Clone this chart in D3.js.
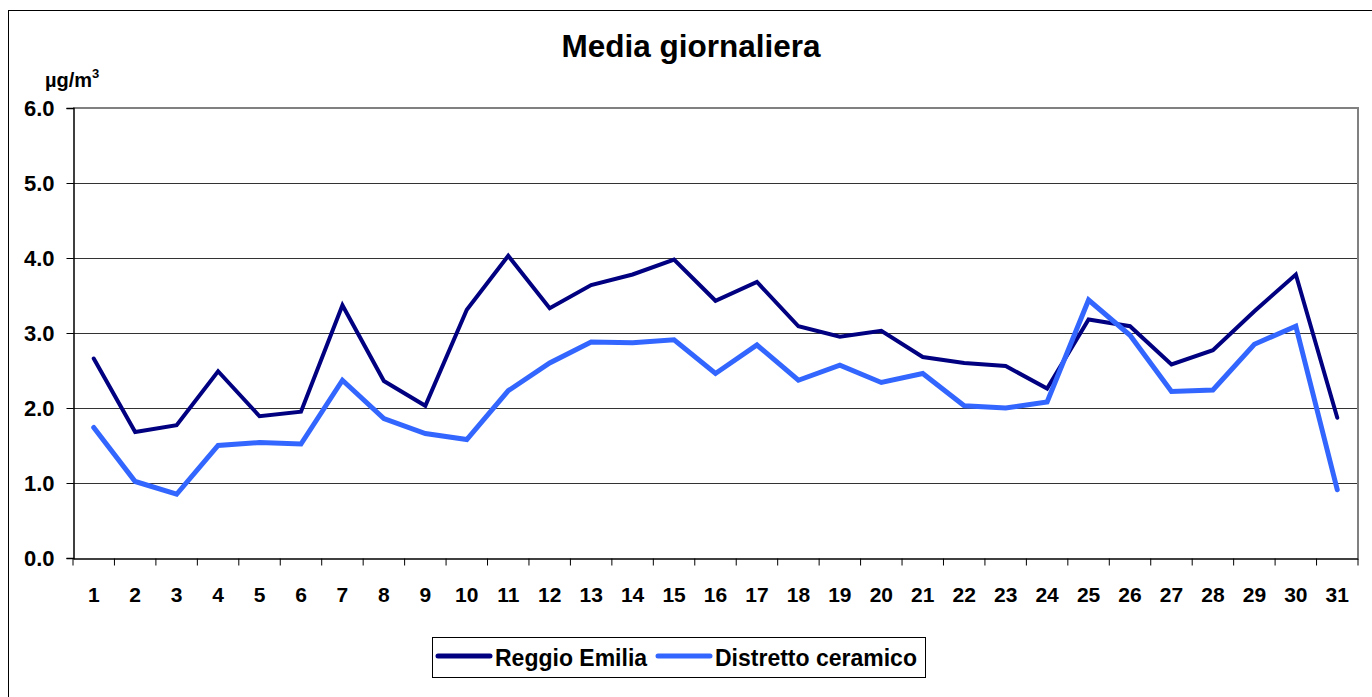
<!DOCTYPE html>
<html>
<head>
<meta charset="utf-8">
<script src="https://cdn.jsdelivr.net/npm/d3@7"></script>
<style>
html,body{margin:0;padding:0;background:#fff;}
svg{display:block;font-family:Arial,"Liberation Sans",sans-serif;}
</style>
</head>
<body>
<svg id="chart" width="1372" height="697"></svg>
<script>
const days = d3.range(1, 32).map(String);
const reggioEmilia = [2.66,1.68,1.77,2.49,1.89,1.95,3.37,2.36,2.03,3.31,4.03,3.33,3.64,3.78,3.98,3.43,3.68,3.09,2.95,3.03,2.68,2.60,2.56,2.26,3.18,3.09,2.58,2.77,3.29,3.78,1.87];
const distrettoCeramico = [1.74,1.02,0.85,1.50,1.54,1.52,2.37,1.86,1.66,1.58,2.23,2.60,2.88,2.87,2.91,2.46,2.84,2.37,2.57,2.34,2.46,2.03,2.00,2.08,3.44,2.97,2.22,2.24,2.85,3.09,0.91];
const yTicks = [0,1,2,3,4,5,6];
const seriesNames = ["Reggio Emilia","Distretto ceramico"];
const seriesColors = ["#000080","#3366FF"];
const seriesWidths = [4,5];

const svg = d3.select("#chart");
// outer border
svg.append("rect").attr("x",8.5).attr("y",10.5).attr("width",1400).attr("height",700)
  .attr("fill","none").attr("stroke","#000").attr("stroke-width",1);

const L=73, R=1358, T=108, B=558;
const x = d3.scaleBand().domain(days).range([L,R]).padding(0);
const y = d3.scaleLinear().domain([0,6]).range([B,T]);

// gridlines
svg.append("g").selectAll("line").data(yTicks.filter(d=>d>0&&d<6)).join("line")
  .attr("x1",L).attr("x2",R).attr("y1",d=>y(d)+0.5).attr("y2",d=>y(d)+0.5)
  .attr("stroke","#333").attr("stroke-width",1);
// plot border top/right gray
svg.append("path").attr("d",`M${L},${T} H${R} V${B}`).attr("fill","none")
  .attr("stroke","#808080").attr("stroke-width",2);

// y axis
const yAxis = d3.axisLeft(y).tickValues(yTicks).tickFormat(d3.format(".1f")).tickSize(7).tickPadding(12);
const gy = svg.append("g").attr("transform",`translate(${L+0.5},0)`).call(yAxis);
gy.select(".domain").attr("stroke","#000").attr("stroke-width",1.5);
gy.selectAll(".tick line").attr("stroke","#000");
gy.selectAll("text").attr("font-size",22).attr("font-weight","bold").attr("fill","#000")
  .attr("font-family","Arial,'Liberation Sans',sans-serif");

// x axis
const xAxis = d3.axisBottom(x).tickSize(0).tickPadding(29);
const gx = svg.append("g").attr("transform",`translate(0,${B+0.5})`).call(xAxis);
gx.select(".domain").attr("stroke","#000").attr("stroke-width",1.5);
gx.selectAll("text").attr("font-size",21).attr("font-weight","bold").attr("fill","#000")
  .attr("font-family","Arial,'Liberation Sans',sans-serif");
// boundary ticks
gx.selectAll(".bt").data(days.concat(["end"])).join("line").attr("class","bt")
  .attr("x1",(d,i)=> i<days.length ? x(d) : x(days[days.length-1])+x.bandwidth())
  .attr("x2",(d,i)=> i<days.length ? x(d) : x(days[days.length-1])+x.bandwidth())
  .attr("y1",0).attr("y2",7).attr("stroke","#000").attr("stroke-width",1);

// lines
const series = [reggioEmilia, distrettoCeramico];
const lineGen = d3.line().x((d,i)=>x(days[i])+x.bandwidth()/2).y(d=>y(d));
series.forEach((s,k)=>{
  svg.append("path").datum(s).attr("d",lineGen).attr("fill","none")
    .attr("stroke",seriesColors[k]).attr("stroke-width",seriesWidths[k])
    .attr("stroke-linejoin","miter").attr("stroke-linecap","round");
});

// title
svg.append("text").attr("x",691).attr("y",57).attr("text-anchor","middle")
  .attr("font-size",31.5).attr("font-weight","bold").text("Media giornaliera");
// unit
const u = svg.append("text").attr("x",45).attr("y",87).attr("font-size",20).attr("font-weight","bold");
u.append("tspan").text("µg/m");
u.append("tspan").attr("font-size",13).attr("dy",-9).text("3");

// legend
svg.append("rect").attr("x",432.5).attr("y",637.5).attr("width",493).attr("height",40)
  .attr("fill","#fff").attr("stroke","#000").attr("stroke-width",1);
const legX = [438, 658];
seriesNames.forEach((n,k)=>{
  svg.append("line").attr("x1",legX[k]).attr("x2",legX[k]+52).attr("y1",656).attr("y2",656)
    .attr("stroke",seriesColors[k]).attr("stroke-width",5).attr("stroke-linecap","round");
  svg.append("text").attr("x",legX[k]+57).attr("y",666).attr("font-size",23)
    .attr("font-weight","bold").text(n);
});
</script>
</body>
</html>
